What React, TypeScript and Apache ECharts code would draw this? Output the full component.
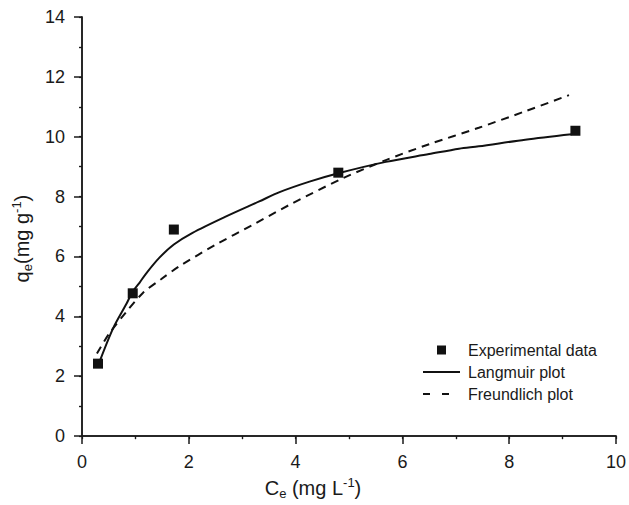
import React, { useEffect, useRef } from "react";
import * as echarts from "echarts";

const xTicks = [0, 2, 4, 6, 8, 10];
const yTicks = [0, 2, 4, 6, 8, 10, 12, 14];

const expC = [0.3, 0.95, 1.72, 4.8, 9.24];
const expQ = [2.42, 4.77, 6.9, 8.8, 10.2];

const langC = [0.3, 0.58, 0.83, 0.95, 1.08, 1.2, 1.45, 1.72, 2.07, 2.7, 3.32, 3.7, 4.26, 4.8, 5.69, 6.5, 7.06, 7.43, 8.3, 9.17];
const langQ = [2.35, 3.59, 4.41, 4.83, 5.13, 5.43, 5.96, 6.4, 6.79, 7.34, 7.84, 8.15, 8.5, 8.78, 9.16, 9.42, 9.6, 9.68, 9.9, 10.08];

const freC = [0.28, 0.5, 0.83, 1.14, 1.48, 1.83, 2.51, 3.2, 3.88, 4.88, 5.69, 6.5, 7.43, 8.3, 9.12];
const freQ = [2.76, 3.4, 4.15, 4.78, 5.24, 5.68, 6.4, 7.06, 7.72, 8.61, 9.22, 9.75, 10.3, 10.85, 11.39];

const FONT = "'Liberation Sans', Arial, sans-serif";
const INK = "#1a1a1a";

export default function App() {
  const ref = useRef<HTMLDivElement>(null);
  useEffect(() => {
    if (!ref.current) return;
    const chart = echarts.init(ref.current, null, { renderer: "svg" });
    const zip = (a: number[], b: number[]) => a.map((v, i) => [v, b[i]]);
    const richName = {
      a: { fontSize: 20, lineHeight: 24, fontFamily: FONT, color: INK },
      s: { fontSize: 13, lineHeight: 13, verticalAlign: "bottom", fontFamily: FONT, color: INK },
      p: { fontSize: 13, lineHeight: 13, verticalAlign: "top", fontFamily: FONT, color: INK },
    };
    const axisLine = { show: true, lineStyle: { color: INK, width: 1.5 } };
    chart.setOption({
      animation: false,
      textStyle: { fontFamily: FONT, color: INK },
      grid: { left: 82, right: 11, top: 17, bottom: 65 },
      legend: {
        orient: "vertical",
        left: 418,
        top: 337,
        itemWidth: 37,
        itemHeight: 9,
        itemGap: 6,
        symbolKeepAspect: true,
        textStyle: { fontSize: 16, color: INK, fontFamily: FONT, padding: [0, 0, 0, 3] },
        data: [
          { name: "Experimental data", icon: "path://M0,0H10V10H0Z" },
          { name: "Langmuir plot", icon: "path://M0,0H37V2H0Z" },
          { name: "Freundlich plot", icon: "path://M0,0H7V2H0Z M19,0H26V2H19Z M37,0" },
        ],
      },
      xAxis: [
        {
          type: "value",
          min: 0,
          max: 10,
          interval: 2,
          position: "bottom",
          axisLine,
          axisTick: { show: true, length: 8, lineStyle: { color: INK, width: 1.5 } },
          minorTick: { show: true, splitNumber: 2, length: 3, lineStyle: { color: INK, width: 1.2 } },
          splitLine: { show: false },
          axisLabel: { fontSize: 18, color: INK, margin: 17, fontFamily: FONT, formatter: (v: number) => (xTicks.includes(v) ? String(v) : "") },
          name: "{a|C}{s|e}{a| (mg L}{p|-1}{a|)}",
          nameLocation: "middle",
          nameGap: 39,
          nameTextStyle: { rich: richName, padding: [0, 72, 0, 0] },
        },
        {
          type: "value",
          min: 0,
          max: 10,
          interval: 1,
          position: "top",
          axisLine,
          axisTick: { show: true, inside: true, length: 3, lineStyle: { color: INK, width: 1.2 } },
          axisLabel: { show: false },
          splitLine: { show: false },
        },
      ],
      yAxis: [
        {
          type: "value",
          min: 0,
          max: 14,
          interval: 2,
          position: "left",
          axisLine,
          axisTick: { show: true, length: 8, lineStyle: { color: INK, width: 1.5 } },
          minorTick: { show: true, splitNumber: 2, length: 3, lineStyle: { color: INK, width: 1.2 } },
          splitLine: { show: false },
          axisLabel: { fontSize: 18, color: INK, margin: 17, fontFamily: FONT, formatter: (v: number) => (yTicks.includes(v) ? String(v) : "") },
          name: "{a|q}{s|e}{a|(mg g}{p|-1}{a|)}",
          nameLocation: "middle",
          nameGap: 43,
          nameRotate: 90,
          nameTextStyle: { rich: richName, padding: [0, 24, 0, 0] },
        },
        {
          type: "value",
          min: 0,
          max: 14,
          interval: 1,
          position: "right",
          axisLine,
          axisTick: { show: true, inside: true, length: 3, lineStyle: { color: INK, width: 1.2 } },
          axisLabel: { show: false },
          splitLine: { show: false },
        },
      ],
      series: [
        {
          name: "Experimental data",
          type: "scatter",
          symbol: "rect",
          symbolSize: 10,
          itemStyle: { color: "#111", opacity: 1 },
          data: zip(expC, expQ),
          z: 5,
        },
        {
          name: "Langmuir plot",
          type: "line",
          smooth: 0.3,
          showSymbol: false,
          symbol: "none",
          lineStyle: { color: "#111", width: 2 },
          itemStyle: { color: "#111" },
          data: zip(langC, langQ),
        },
        {
          name: "Freundlich plot",
          type: "line",
          smooth: 0.3,
          showSymbol: false,
          symbol: "none",
          lineStyle: { color: "#111", width: 2, type: [8, 6] },
          itemStyle: { color: "#111" },
          data: zip(freC, freQ),
        },
      ],
    });
    return () => chart.dispose();
  }, []);
  return <div ref={ref} style={{ position: "fixed", left: 0, top: 0, width: 629, height: 505, background: "#fff" }} />;
}
